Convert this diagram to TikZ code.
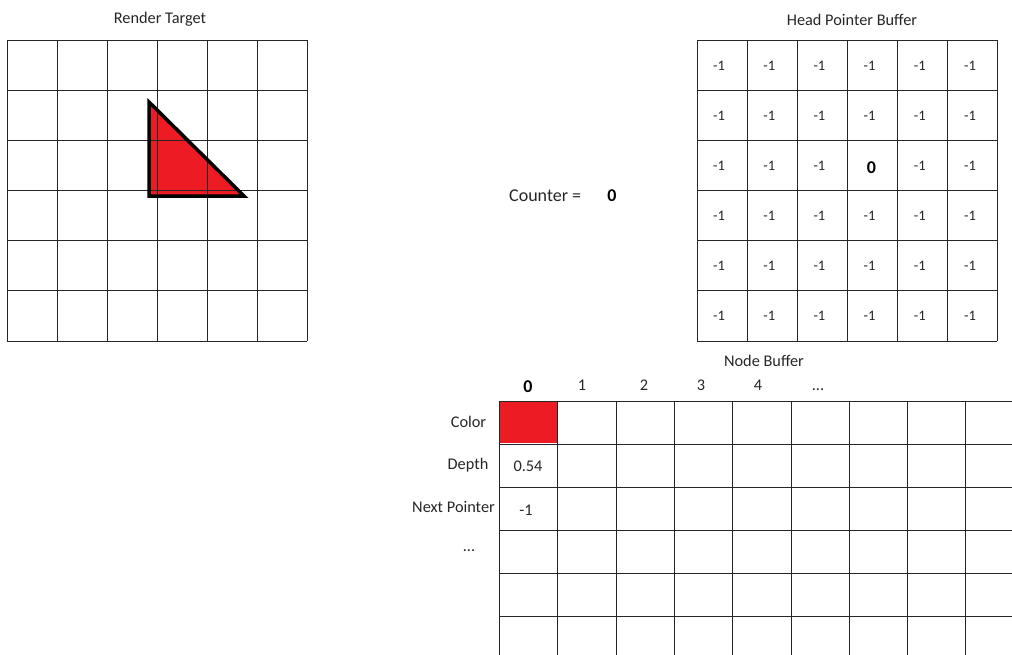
\documentclass[tikz,border=0pt]{standalone}
\usepackage{fontspec}
\setmainfont{Carlito}
\definecolor{tri}{HTML}{ED1C24}
\definecolor{ink}{HTML}{262626}
\begin{document}
\begin{tikzpicture}[x=1pt,y=-1pt,
  gridline/.style={draw=black!85, line width=0.9pt},
  txt/.style={font=\fontsize{16.3}{19}\selectfont, text=ink, inner sep=0pt, anchor=base},
  bigzero/.style={font=\fontsize{18}{21}\selectfont\bfseries, text=black, inner sep=0pt, anchor=base},
  cellval/.style={font=\fontsize{14.5}{17}\selectfont, text=ink, inner sep=0pt, anchor=base}]
\useasboundingbox (0,0) rectangle (1012,654);
\clip (0,0) rectangle (1012,654);
% ---------- Render target ----------
\fill[tri] (149,102) -- (149,196) -- (244,196) -- cycle;
\foreach \k in {0,...,6}{
  \draw[gridline] ({7+50*\k},40) -- ({7+50*\k},341);
  \draw[gridline] (7,{40+50.17*\k}) -- (307,{40+50.17*\k});
}
\draw[line width=3.5pt, line join=miter] (149,102) -- (149,196) -- (244,196) -- cycle;
\node[txt] (rtTitle) at (160,23.5) {Render Target};
% ---------- Head pointer buffer ----------
\foreach \k in {0,...,6}{
  \draw[gridline] ({697+50*\k},40) -- ({697+50*\k},341);
  \draw[gridline] (697,{40+50.17*\k}) -- (997,{40+50.17*\k});
}
\node[txt] (hpTitle) at (852,25.5) {Head Pointer Buffer};
\foreach \i in {0,...,5}{
  \foreach \j in {0,...,5}{
    \ifnum\i=3 \ifnum\j=2 \else
      \node[cellval] (hp-\i-\j) at ({719+50.2*\i},{70+50.17*\j}) {-1};
    \fi\else
      \node[cellval] (hp-\i-\j) at ({719+50.2*\i},{70+50.17*\j}) {-1};
    \fi
  }
}
\node[bigzero] (hp-3-2) at (871.5,173) {0};
% ---------- Counter ----------
\node[font=\fontsize{18}{21}\selectfont, text=ink, inner sep=0pt, anchor=base west] (counter) at (509,201) {Counter =};
\node[bigzero] (counterVal) at (612,201) {0};
% ---------- Node buffer ----------
\fill[tri] (499,401) rectangle (557.4,443);
\foreach \k in {0,...,8}{
  \draw[gridline] ({499.5+58.3*\k},401) -- ({499.5+58.3*\k},660);
}
\foreach \r in {401,444,487,530,573,616}{
  \draw[gridline] (499.5,\r) -- (1015,\r);
}
\node[txt] (nbTitle) at (764,366.5) {Node Buffer};
\node[bigzero] (col0) at (528,392) {0};
\node[txt] (col1) at (582,390.5) {1};
\node[txt] (col2) at (644,390.5) {2};
\node[txt] (col3) at (701,390.5) {3};
\node[txt] (col4) at (758,390.5) {4};
\node[txt] (col5) at (818,390.5) {...};
\node[txt] (rowColor) at (468.5,427) {Color};
\node[txt] (rowDepth) at (468,469) {Depth};
\node[txt, anchor=base east] (rowNext) at (495,512) {Next Pointer};
\node[txt] (rowMore) at (469,551.5) {...};
\node[txt] (depthVal) at (528,471.5) {0.54};
\node[txt] (nextVal) at (526,515) {-1};
\end{tikzpicture}
\end{document}
